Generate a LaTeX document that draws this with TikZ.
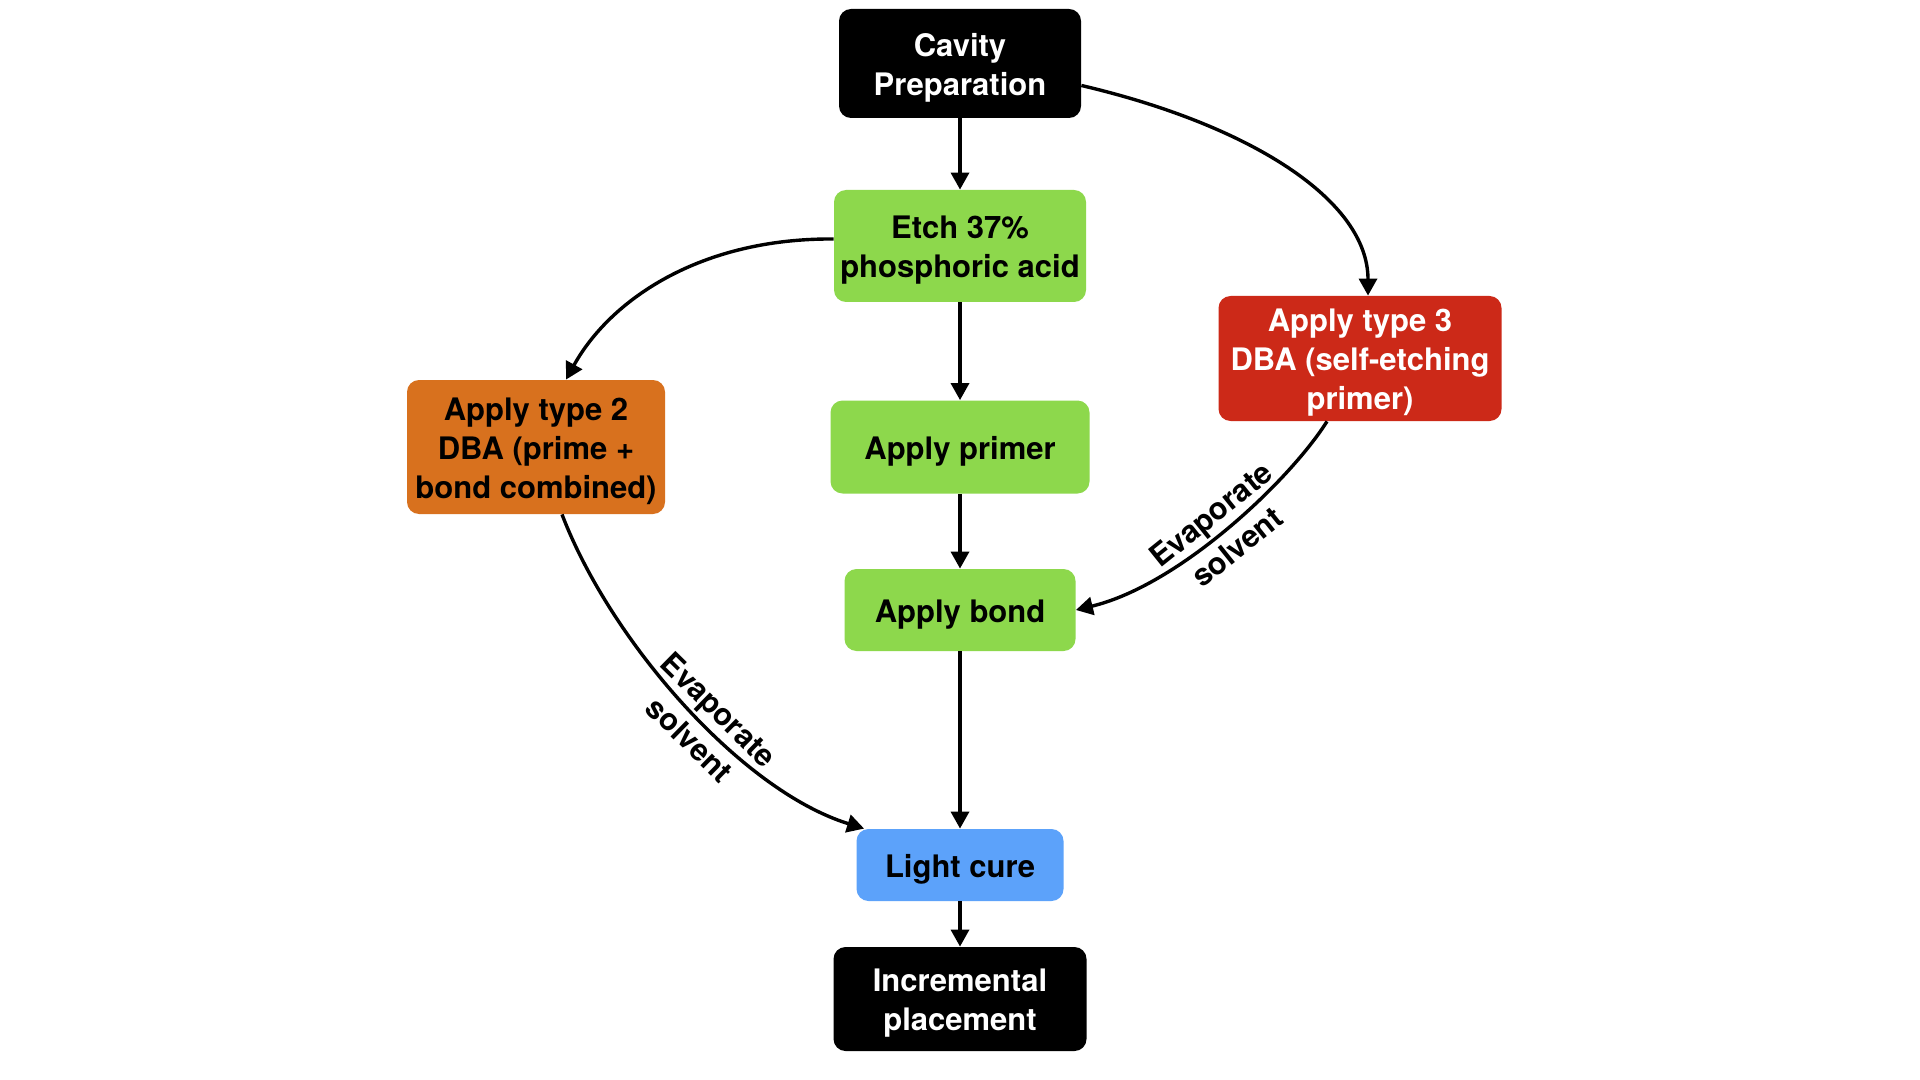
\documentclass[tikz,border=0pt]{standalone}
\usepackage{fontspec}
\setmainfont{TeX Gyre Heros}
\usetikzlibrary{arrows.meta}
\definecolor{cgreen}{HTML}{8DD84C}
\definecolor{corange}{HTML}{D8711E}
\definecolor{cred}{HTML}{CC2918}
\definecolor{cblue}{HTML}{5CA2FA}
\begin{document}
\begin{tikzpicture}[x=0.5pt,y=-0.5pt,
  box/.style={rounded corners=6pt, inner sep=0pt},
  darkbox/.style={box, fill=black},
  greenbox/.style={box, fill=cgreen},
  orangebox/.style={box, fill=corange},
  redbox/.style={box, fill=cred},
  bluebox/.style={box, fill=cblue},
  txt/.style={align=center, inner sep=0pt,
    font=\fontsize{15.5}{19.5}\selectfont\bfseries},
  wtxt/.style={txt, text=white},
  btxt/.style={txt, text=black},
  arr/.style={line width=1.7pt, -{Triangle[length=8.5pt,width=9pt]}},
  lbl/.style={sloped, align=center, inner sep=0pt,
    font=\fontsize{15.3}{21}\selectfont\bfseries}]
\useasboundingbox[fill=white] (0,0) rectangle (1920,1080);

\node[darkbox, minimum width=121pt, minimum height=54.5pt] (cav) at (960,63.5) {};
\node[wtxt] (cavt) at ([yshift=-2pt]cav.center) {Cavity\\Preparation};
\node[greenbox, minimum width=126pt, minimum height=56pt] (etch) at (960,246) {};
\node[btxt] (etcht) at ([yshift=-2pt]etch.center) {Etch 37\%\\phosphoric acid};
\node[greenbox, minimum width=129.5pt, minimum height=46.5pt] (primer) at (960,447) {};
\node[btxt] (primert) at ([yshift=-2pt]primer.center) {Apply primer};
\node[greenbox, minimum width=115.5pt, minimum height=41pt] (bond) at (960,610) {};
\node[btxt] (bondt) at ([yshift=-2.5pt]bond.center) {Apply bond};
\node[bluebox, minimum width=103.5pt, minimum height=36pt] (light) at (960,865) {};
\node[btxt] (lightt) at ([yshift=-2pt]light.center) {Light cure};
\node[darkbox, minimum width=126.5pt, minimum height=52pt] (incr) at (960,999) {};
\node[wtxt] (incrt) at ([yshift=-2pt]incr.center) {Incremental\\placement};
\node[orangebox, minimum width=129pt, minimum height=67pt] (type2) at (536,447) {};
\node[btxt] (type2t) at ([yshift=-2pt]type2.center) {Apply type 2\\DBA (prime +\\bond combined)};
\node[redbox, minimum width=141.5pt, minimum height=62.5pt] (type3) at (1360,358.5) {};
\node[wtxt] (type3t) at ([yshift=-2pt]type3.center) {Apply type 3\\DBA (self-etching\\primer)};

\draw[arr] (cav.south) -- (etch.north);
\draw[arr] (etch.south) -- (primer.north);
\draw[arr] (primer.south) -- (bond.north);
\draw[arr] (bond.south) -- (light.north);
\draw[arr] (light.south) -- (incr.north);

\draw[arr] ([yshift=-11pt]cav.east) .. controls (1250,125) and (1368,200) .. ([xshift=4pt]type3.north);
\draw[arr] ([yshift=3.5pt]etch.west) .. controls (700,238) and (610,300) .. ([xshift=15pt]type2.north);
\draw[arr] ([xshift=13pt]type2.south) .. controls (610,640) and (740,790) .. ([xshift=4pt]light.north west)
  node[lbl, pos=0.56] (lb2) {Evaporate\\solvent};
\draw[arr] ([xshift=-16.5pt]type3.south) .. controls (1290,480) and (1180,585) .. (bond.east)
  node[lbl, pos=0.51] (lb3) {Evaporate\\solvent};
\end{tikzpicture}
\end{document}
